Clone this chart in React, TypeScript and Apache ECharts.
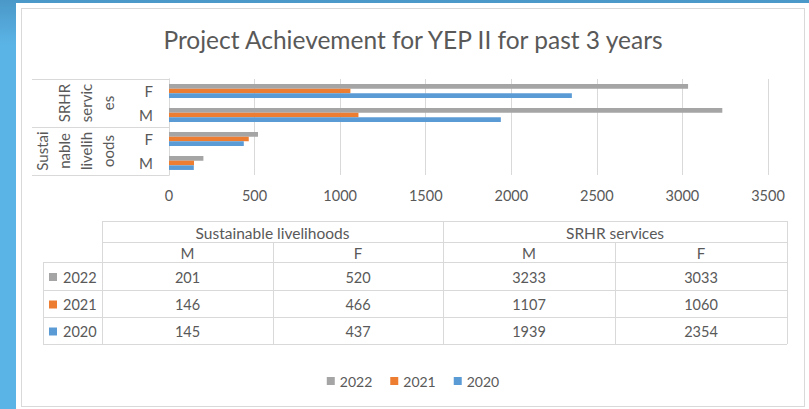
import React, { useEffect, useRef } from 'react';
import * as echarts from 'echarts';

// ---- data ----
const groups = ['Sustainable livelihoods', 'SRHR services'];
const groupWrapped = ['Sustai\nnable\nlivelih\noods', 'SRHR\nservic\nes'];
const genders = ['M', 'F'];
const years = ['2022', '2021', '2020'];
const values2022 = [201, 520, 3233, 3033];
const values2021 = [146, 466, 1107, 1060];
const values2020 = [145, 437, 1939, 2354];
const seriesValues = [values2022, values2021, values2020];
const xMin = 0;
const xMax = 3500;
const xInterval = 500;
const title = 'Project Achievement for YEP II for past 3 years';

// categories bottom→top: SL M, SL F, SRHR M, SRHR F
const categories: string[] = [];
groups.forEach((g) => genders.forEach((s) => categories.push(g + '|' + s)));

const colors = ['#A5A5A5', '#ED7D31', '#5B9BD5'];
const TEXT = '#595959';
const LINE = '#D9D9D9';
const FONT = 'Lato, "Open Sans", sans-serif';

// table layout (chart coords)
const TX = [22, 81, 252, 422, 594, 766];
const TY = [213, 234, 254, 282, 309, 336];

function buildTable(): any[] {
  const els: any[] = [];
  const hl = (y: number, x1: number, x2: number) =>
    els.push({ type: 'line', shape: { x1, y1: y + 0.5, x2, y2: y + 0.5 }, style: { stroke: LINE, lineWidth: 1 }, silent: true });
  const vl = (x: number, y1: number, y2: number) =>
    els.push({ type: 'line', shape: { x1: x + 0.5, y1, x2: x + 0.5, y2 }, style: { stroke: LINE, lineWidth: 1 }, silent: true });
  hl(TY[0], TX[1], TX[5]);
  hl(TY[1], TX[1], TX[5]);
  for (let r = 2; r < TY.length; r++) hl(TY[r], TX[0], TX[5]);
  vl(TX[0], TY[2], TY[5]);
  vl(TX[1], TY[0], TY[5]);
  vl(TX[2], TY[1], TY[5]);
  vl(TX[3], TY[0], TY[5]);
  vl(TX[4], TY[1], TY[5]);
  vl(TX[5], TY[0], TY[5]);
  const txt = (text: string, x: number, y: number, size: number, align = 'center') =>
    els.push({
      type: 'text', x, y, silent: true,
      style: { text, fill: TEXT, fontSize: size, fontFamily: FONT, textAlign: align, textVerticalAlign: 'middle' },
    });
  groups.forEach((g, gi) => txt(g, (TX[1 + gi * 2] + TX[3 + gi * 2]) / 2, (TY[0] + TY[1]) / 2 + 1, 15.5));
  categories.forEach((c, ci) => txt(c.split('|')[1], (TX[1 + ci] + TX[2 + ci]) / 2, (TY[1] + TY[2]) / 2 + 1, 15));
  years.forEach((y, yi) => {
    const cy = (TY[2 + yi] + TY[3 + yi]) / 2 + 1;
    els.push({ type: 'rect', shape: { x: 28, y: cy - 4, width: 8, height: 8 }, style: { fill: colors[yi] }, silent: true });
    txt(y, 42, cy, 14.5, 'left');
    seriesValues[yi].forEach((v, ci) => txt(String(v), (TX[1 + ci] + TX[2 + ci]) / 2, cy, 14.5));
  });
  return els;
}

export default function App() {
  const ref = useRef<HTMLDivElement>(null);
  useEffect(() => {
    if (!ref.current) return;
    const chart = echarts.init(ref.current, null, { renderer: 'svg' });
    chart.setOption({
      animation: false,
      textStyle: { fontFamily: FONT },
      title: {
        text: title,
        left: 'center',
        top: 14,
        textStyle: { fontSize: 24.5, fontWeight: 'normal', color: TEXT, fontFamily: FONT },
      },
      legend: {
        data: years,
        left: 'center',
        top: 361,
        itemWidth: 8,
        itemHeight: 8,
        itemGap: 18,
        icon: 'rect',
        textStyle: { fontSize: 14, color: TEXT, fontFamily: FONT },
      },
      grid: { left: 148, right: 37, top: 71, height: 96, containLabel: false },
      xAxis: {
        type: 'value',
        min: xMin,
        max: xMax,
        interval: xInterval,
        axisLine: { show: false },
        axisTick: { show: false },
        axisLabel: { color: TEXT, fontSize: 14.5, margin: 13, fontFamily: FONT, formatter: (v: number) => String(v) },
        splitLine: { lineStyle: { color: LINE, width: 1 } },
      },
      yAxis: [
        {
          type: 'category',
          data: categories,
          axisLine: { show: true, lineStyle: { color: LINE } },
          axisTick: { show: false },
          axisLabel: {
            color: TEXT,
            fontSize: 15,
            margin: 16,
            interval: 0,
            fontFamily: FONT,
            formatter: (v: string) => v.split('|')[1],
          },
        },
        {
          type: 'category',
          data: groups,
          position: 'left',
          offset: 0,
          axisLine: { show: true, lineStyle: { color: LINE } },
          axisTick: { show: true, length: 137, interval: 0, lineStyle: { color: LINE } },
          axisLabel: {
            color: TEXT,
            fontSize: 15,
            rotate: 90,
            margin: 50,
            interval: 0,
            hideOverlap: false,
            lineHeight: 22,
            fontFamily: FONT,
            formatter: (v: string) => groupWrapped[groups.indexOf(v)],
          },
        },
      ],
      series: years.map((y, i) => ({
        name: y,
        type: 'bar',
        yAxisIndex: 0,
        data: seriesValues[i],
        itemStyle: { color: colors[i] },
        barGap: '0%',
        barCategoryGap: '42%',
      })),
      graphic: buildTable(),
    });
    return () => chart.dispose();
  }, []);

  return (
    <div
      style={{
        position: 'fixed',
        left: 0,
        top: 0,
        width: 809,
        height: 409,
        background: 'linear-gradient(to bottom, #4a98c8 0px, #5bb4e6 45px, #5bb4e6 100%)',
        overflow: 'hidden',
      }}
    >
      <div style={{ position: 'absolute', left: 16, top: 3, width: 793, height: 406, background: '#ffffff' }} />
      <div
        style={{
          position: 'absolute',
          left: 21,
          top: 8,
          width: 782,
          height: 397,
          border: '1px solid #D9D9D9',
        }}
      />
      <div ref={ref} style={{ position: 'absolute', left: 21, top: 8, width: 784, height: 399 }} />
    </div>
  );
}
